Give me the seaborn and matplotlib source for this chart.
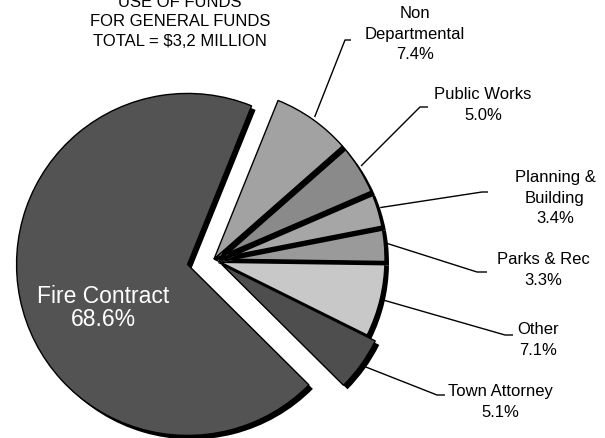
import matplotlib
matplotlib.use("Agg")
import matplotlib.pyplot as plt
import numpy as np
import seaborn as sns

# Budget shares, listed clockwise from the top of the pie
categories = ["Non\nDepartmental", "Public Works", "Planning &\nBuilding",
              "Parks & Rec", "Other", "Town Attorney", "Fire Contract"]
shares = [7.4, 5.0, 3.4, 3.3, 7.1, 5.1, 68.6]
slice_colors = ["#a2a2a2", "#8a8a8a", "#a6a6a6", "#9a9a9a",
                "#c8c8c8", "#4e4e4e", "#535353"]
title_lines = ["USE OF FUNDS", "FOR GENERAL FUNDS", "TOTAL = $3,2 MILLION"]

sns.set_style("white")
plt.rcParams["font.family"] = ["Liberation Sans", "DejaVu Sans"]

W, H = 605, 438
fig = plt.figure(figsize=(W / 100, H / 100), dpi=100)
ax = fig.add_axes([0, 0, 1, 1])

center = (214, H - 259)
radius = 171
# pie offsets are in data units (= pixels here)
explode = [0, 0, 0, 0, 0, 10, 27]
start = 68.0
depth = (4, -4)

# dark "side" of each wedge, drawn just beneath it for a raised look
shadow, _ = ax.pie(shares, radius=radius,
                   center=(center[0] + depth[0], center[1] + depth[1]),
                   startangle=start, counterclock=False, explode=explode,
                   colors=["black"] * len(shares),
                   wedgeprops=dict(linewidth=0))
wedges, _ = ax.pie(shares, radius=radius, center=center,
                   startangle=start, counterclock=False, explode=explode,
                   colors=slice_colors,
                   wedgeprops=dict(edgecolor="black", linewidth=1.0))
n = len(shares)
for i in range(n):
    shadow[i].set_zorder(2 * (n - i))
    wedges[i].set_zorder(2 * (n - i) + 1)

ax.set_xlim(0, W)
ax.set_ylim(0, H)
ax.set_aspect("equal")
ax.axis("off")

# leader elbows and label anchors (figure pixel coords, y from top)
elbows = [(345, 40), (420, 107), (482, 192), (477, 272), (505, 335), (437, 395)]
tails = [6, 8, 6, 10, 8, 8]
label_pos = [(415, 34), (483, 105), (555, 198), (543, 270), (538, 340), (500, 402)]

for i in range(n - 1):
    w = wedges[i]
    mid = np.deg2rad((w.theta1 + w.theta2) / 2)
    cx, cy = w.center
    sx = cx + (w.r + 3) * np.cos(mid)
    sy = cy + (w.r + 3) * np.sin(mid)
    ex, ey = elbows[i][0], H - elbows[i][1]
    ax.plot([sx, ex, ex + tails[i]], [sy, ey, ey], color="black", lw=1.0,
            zorder=20, solid_capstyle="butt")
    txt = f"{categories[i]}\n{shares[i]:.1f}%"
    ax.text(label_pos[i][0], H - label_pos[i][1], txt, ha="center", va="center",
            fontsize=12, color="black", linespacing=1.45, zorder=21)

# label inside the largest slice
ax.text(103, H - 308, f"{categories[-1]}\n{shares[-1]:.1f}%", ha="center",
        va="center", fontsize=16.5, color="white", linespacing=1.0, zorder=30)

ax.text(180, H - 22, "\n".join(title_lines), ha="center", va="center",
        fontsize=12, color="black", linespacing=1.4, zorder=30)

fig.savefig("out.png", dpi=100, facecolor="white")
